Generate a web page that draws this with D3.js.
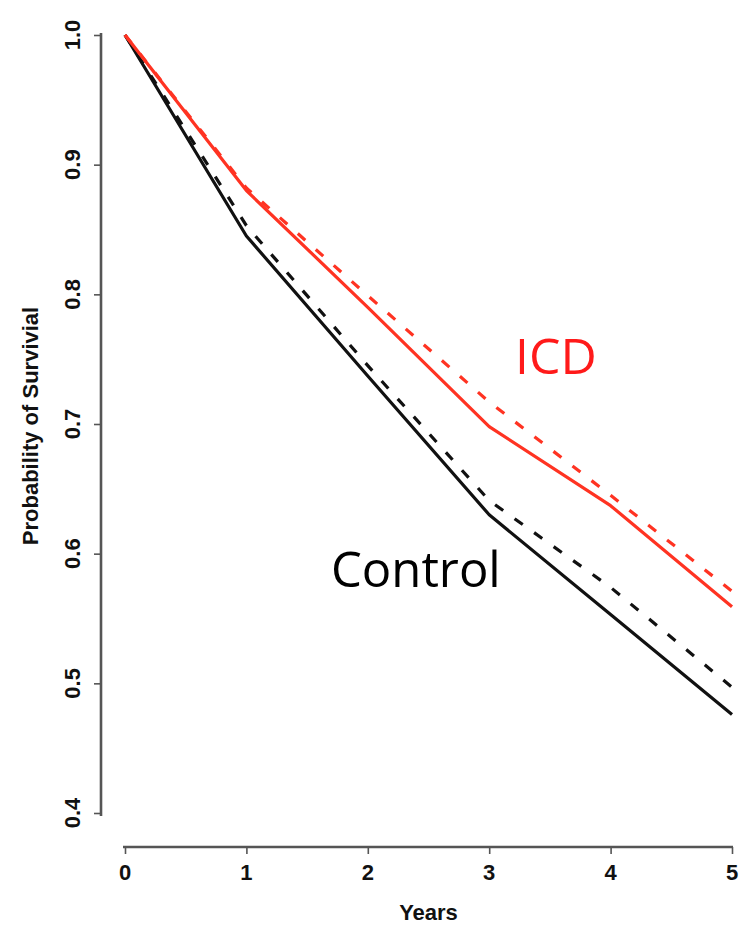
<!DOCTYPE html>
<html>
<head>
<meta charset="utf-8">
<script src="https://cdn.jsdelivr.net/npm/d3@7"></script>
<style>
  html, body { margin: 0; padding: 0; background: #fff; }
  svg { display: block; }
</style>
</head>
<body>
<svg id="chart" width="751" height="927"></svg>
<script>
// ---- Data ----
const years = [0, 1, 2, 3, 4, 5];
const controlSolid  = [1.0, 0.845, 0.737, 0.630, 0.553, 0.476];
const controlDashed = [1.0, 0.853, 0.745, 0.641, 0.574, 0.497];
const icdSolid      = [1.0, 0.880, 0.790, 0.698, 0.637, 0.559];
const icdDashed     = [1.0, 0.882, 0.799, 0.717, 0.645, 0.571];
const xTicks = [0, 1, 2, 3, 4, 5];
const yTicks = [0.4, 0.5, 0.6, 0.7, 0.8, 0.9, 1.0];
const xTitle = "Years";
const yTitle = "Probability of Survivial";
const labelICD = "ICD";
const labelControl = "Control";

// ---- Layout ----
const svg = d3.select("#chart");
const x = d3.scaleLinear().domain([0, 5]).range([125, 732]);
const y = d3.scaleLinear().domain([0.4, 1.0]).range([813, 35]);
const axisColor = "#555";
const tickFont = "'Liberation Sans', Arial, sans-serif";
const axisFontSize = 22;

// Y axis
const yAxisX = 101;
const gy = svg.append("g").attr("transform", `translate(${yAxisX},0)`)
  .call(d3.axisLeft(y).tickValues(yTicks).tickSize(7).tickFormat(d3.format(".1f")));
gy.select(".domain").remove();
gy.selectAll(".tick line").attr("stroke", axisColor).attr("stroke-width", 1.6);
gy.selectAll(".tick text").remove();
gy.append("line")
  .attr("x1", 0).attr("x2", 0)
  .attr("y1", y(1.0) - 2).attr("y2", y(0.4) + 3)
  .attr("stroke", axisColor).attr("stroke-width", 2.6);
// rotated y tick labels
svg.append("g").selectAll("text").data(yTicks).join("text")
  .attr("transform", d => `translate(80,${y(d)}) rotate(-90)`)
  .attr("text-anchor", "middle")
  .attr("font-family", tickFont).attr("font-weight", "bold")
  .attr("font-size", axisFontSize).attr("fill", "#111")
  .text(d => d3.format(".1f")(d));

// X axis
const xAxisY = 847;
const gx = svg.append("g").attr("transform", `translate(0,${xAxisY})`)
  .call(d3.axisBottom(x).tickValues(xTicks).tickSize(7).tickFormat(d3.format("d")));
gx.select(".domain").remove();
gx.selectAll(".tick line").attr("stroke", axisColor).attr("stroke-width", 1.6);
gx.selectAll(".tick text").remove();
gx.append("line")
  .attr("x1", x(0) - 2).attr("x2", x(5) + 1)
  .attr("y1", 0).attr("y2", 0)
  .attr("stroke", axisColor).attr("stroke-width", 2.6);
svg.append("g").selectAll("text").data(xTicks).join("text")
  .attr("x", d => x(d)).attr("y", 880)
  .attr("text-anchor", "middle")
  .attr("font-family", tickFont).attr("font-weight", "bold")
  .attr("font-size", axisFontSize).attr("fill", "#111")
  .text(d => d);

// Axis titles
svg.append("text")
  .attr("x", (x(0) + x(5)) / 2).attr("y", 920)
  .attr("text-anchor", "middle")
  .attr("font-family", tickFont).attr("font-weight", "bold")
  .attr("font-size", axisFontSize).attr("fill", "#111")
  .text(xTitle);
svg.append("text")
  .attr("transform", `translate(38,${(y(1.0) + y(0.4)) / 2 + 2}) rotate(-90)`)
  .attr("text-anchor", "middle")
  .attr("font-family", tickFont).attr("font-weight", "bold")
  .attr("font-size", axisFontSize).attr("fill", "#111")
  .text(yTitle);

// Lines
const line = d3.line().x((d, i) => x(years[i])).y(d => y(d));
const series = [
  { values: controlDashed, color: "#111", dash: "10,14" },
  { values: controlSolid,  color: "#111", dash: null },
  { values: icdDashed,     color: "#ff3322", dash: "10,14" },
  { values: icdSolid,      color: "#ff3322", dash: null }
];
svg.append("g").selectAll("path").data(series).join("path")
  .attr("d", d => line(d.values))
  .attr("fill", "none")
  .attr("stroke", d => d.color)
  .attr("stroke-width", 3.2)
  .attr("stroke-linejoin", "round")
  .attr("stroke-dasharray", d => d.dash);

// Labels
svg.append("text")
  .attr("x", 515).attr("y", 374)
  .attr("font-family", "'Open Sans', 'Noto Sans', sans-serif")
  .attr("font-size", 50).attr("fill", "#ff1a1a")
  .text(labelICD);
svg.append("text")
  .attr("x", 331).attr("y", 587)
  .attr("font-family", "'Open Sans', 'Noto Sans', sans-serif")
  .attr("font-size", 49).attr("fill", "#000")
  .text(labelControl);
</script>
</body>
</html>
